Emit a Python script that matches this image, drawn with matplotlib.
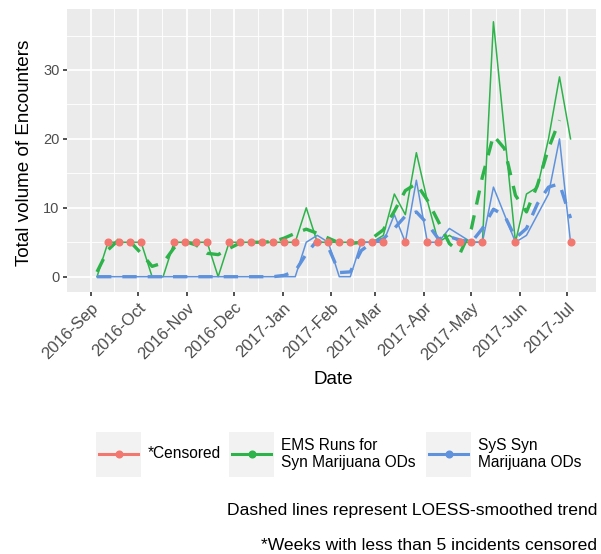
import numpy as np
import matplotlib
matplotlib.use("Agg")
import matplotlib.pyplot as plt
import matplotlib.dates as mdates
import matplotlib.transforms as mtrans
from matplotlib.patches import Rectangle
from matplotlib.lines import Line2D

plt.rcParams['font.family'] = ['Liberation Sans', 'DejaVu Sans']

# weekly data, first week 2016-09-05
weeks = np.arange('2016-09-05', '2017-07-10', 7, dtype='datetime64[D]')

ems = [0, 5, 5, 5, 5, 0, 0, 5, 5, 5, 5, 0, 5, 5, 5, 5, 5, 5, 5, 10,
       5, 5, 5, 5, 5, 5, 6, 12, 9, 18, 11, 5, 6, 5, 5, 5, 37, 21, 5, 12,
       13, 20, 29, 20]
sys_ = [0, 0, 0, 0, 0, 0, 0, 0, 0, 0, 0, 0, 0, 0, 0, 0, 0, 0, 0, 5,
        6, 5, 0, 0, 5, 5, 5, 9, 5, 14, 5, 5, 7, 6, 5, 5, 13, 9, 5, 6,
        9, 12, 20, 5]
# censored weeks (<5 incidents) shown at 5
nan = np.nan
cens = [nan, 5, 5, 5, 5, nan, nan, 5, 5, 5, 5, nan, 5, 5, 5, 5, 5, 5, 5, nan,
        5, 5, 5, 5, 5, 5, 5, nan, 5, nan, 5, 5, nan, 5, 5, 5, nan, nan, 5, nan,
        nan, nan, nan, 5]

# LOESS trend (EMS trend stops one week early)
ems_fit = [0.7, 3.9, 5.4, 5.1, 3.4, 1.5, 2.0, 4.2, 5.1, 4.6, 3.4, 3.2, 4.1, 4.9,
           5.0, 5.0, 5.1, 5.6, 6.3, 6.9, 6.3, 5.6, 4.9, 4.8, 5.0, 5.6, 6.8, 9.5,
           12.5, 13.5, 11.1, 8.0, 4.8, 3.5, 7.0, 14.5, 20.5, 18.6, 11.8, 9.4,
           13.3, 18.6, 22.7]
sys_fit = [0, 0, 0, 0, 0, 0, 0, 0, 0, 0, 0, 0, 0, 0, 0, 0, 0, 0.2, 0.8, 3.3,
           5.3, 4.3, 0.6, 0.7, 3.8, 5.0, 5.5, 7.0, 8.8, 9.4, 7.7, 5.5, 5.8, 5.3,
           5.0, 7.0, 9.8, 8.9, 5.6, 7.0, 10.6, 13.0, 13.5, 8.5]

labels = ['*Censored', 'EMS Runs for\nSyn Marijuana ODs', 'SyS Syn\nMarijuana ODs']
cols = ['#F2776F', '#2DB34A', '#5F92DC']

W, H = 601, 554
fig = plt.figure(figsize=(W / 100, H / 100), dpi=100)
ax = fig.add_axes([67.3 / W, 1 - 292 / H, (596 - 67.3) / W, (292 - 9) / H])
ax.set_facecolor('#EBEBEB')
for s in ax.spines.values():
    s.set_visible(False)

x = mdates.date2num(weeks)
ax.plot(x, ems, color=cols[1], lw=1.1, zorder=3)
ax.plot(x, sys_, color=cols[2], lw=1.1, zorder=3)
ax.plot(x[:len(ems_fit)], ems_fit, color=cols[1], lw=2.4, dashes=(4.3, 3.3), zorder=4)
ax.plot(x, sys_fit, color=cols[2], lw=2.4, dashes=(4.3, 3.3), zorder=4)
ax.plot(x, cens, 'o', color=cols[0], ms=4.8, zorder=5)

# axes
months = np.arange('2016-09', '2017-08', dtype='datetime64[M]').astype('datetime64[D]')
mnum = mdates.date2num(months)
ax.set_xticks(mnum)
ax.set_xticklabels([m.strftime('%Y-%b') for m in mdates.num2date(mnum)],
                   rotation=45, ha='right', va='top', rotation_mode='anchor')
shift = mtrans.ScaledTranslation(6 / 100, -5 / 100, fig.dpi_scale_trans)
for lab in ax.get_xticklabels():
    lab.set_transform(lab.get_transform() + shift)
    lab.set_fontsize(12)
edges = np.concatenate([[mnum[0] - 31], mnum])
ax.set_xticks((edges[:-1] + edges[1:]) / 2, minor=True)
ax.set_xlim(mnum[0] - 14.9, mnum[-1] + 18.2)
ax.set_yticks([0, 10, 20, 30])
ax.set_yticks([5, 15, 25, 35], minor=True)
ax.set_ylim(-2.22, 38.85)
ax.grid(which='major', color='white', lw=1.25)
ax.grid(which='minor', color='white', lw=0.62)
ax.set_axisbelow(True)
ax.tick_params(which='major', length=3.2, width=1.2, color='#333333',
               labelcolor='#4D4D4D', pad=2.5)
ax.tick_params(axis='y', labelsize=10.5)
ax.tick_params(which='minor', length=0)

fig.text(25 / W, 1 - 153 / H, 'Total volume of Encounters', rotation=90,
         ha='center', va='center', fontsize=13.6)
fig.text(333 / W, 1 - 379 / H, 'Date', ha='center', va='center', fontsize=13.6)

# legend
key_x = [96, 229, 426]
for kx, lab, c in zip(key_x, labels, cols):
    fig.add_artist(Rectangle((kx / W, 1 - 477 / H), 45 / W, 45 / H,
                             transform=fig.transFigure, facecolor='#F2F2F2',
                             edgecolor='none'))
    fig.add_artist(Line2D([(kx + 3) / W, (kx + 42) / W], [1 - 454 / H] * 2,
                          transform=fig.transFigure, color=c, lw=2.2))
    fig.add_artist(Line2D([(kx + 22.5) / W], [1 - 454 / H], marker='o', ms=4.8,
                          transform=fig.transFigure, color=c))
    fig.text((kx + 52) / W, 1 - 454 / H, lab, ha='left', va='center',
             fontsize=11.2, linespacing=1.15)

fig.text(597 / W, 1 - 510 / H, 'Dashed lines represent LOESS-smoothed trend',
         ha='right', va='center', fontsize=12.6)
fig.text(597 / W, 1 - 546 / H, '*Weeks with less than 5 incidents censored',
         ha='right', va='center', fontsize=12.6)

fig.savefig('out.png', dpi=100)
